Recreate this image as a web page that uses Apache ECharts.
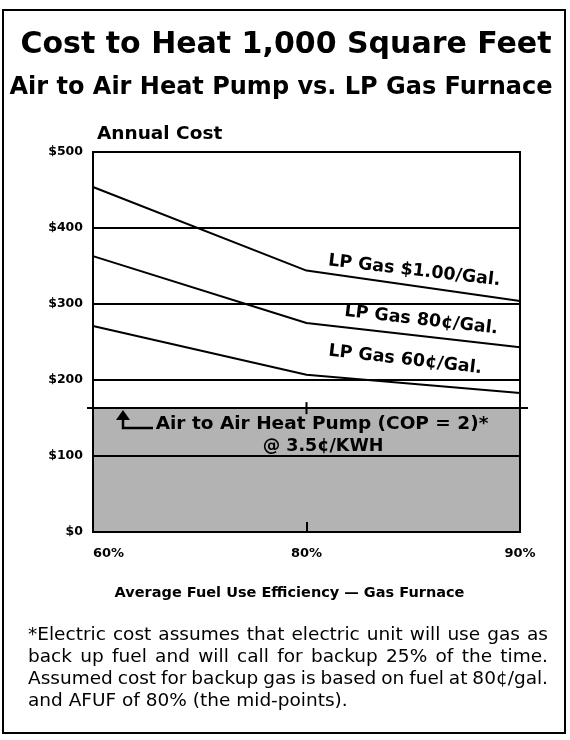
<!DOCTYPE html>
<html>
<head>
<meta charset="utf-8">
<script src="https://cdn.jsdelivr.net/npm/echarts@6/dist/echarts.min.js"></script>
<style>
  html, body { margin: 0; padding: 0; background: #fff; }
  #chart { width: 570px; height: 740px; }
</style>
</head>
<body>
<div id="chart"></div>
<script>
// efficiency categories on the x axis
var efficiency = ['60%', '80%', '90%'];
// annual cost in dollars
var gas100 = [454, 344, 304];
var gas80 = [363, 275, 243];
var gas60 = [271, 207, 183];
var heatPump = [163, 163, 163];
var costTicks = [0, 100, 200, 300, 400, 500];

var FONT = 'DejaVu Sans';

var dom = document.getElementById('chart');
var myChart = echarts.init(dom);

function gasLine(name, data) {
    return {
        name: name,
        type: 'line',
        data: data,
        symbol: 'none',
        silent: true,
        lineStyle: { color: '#000', width: 2 },
        z: 3
    };
}

var option = {
    animation: false,
    backgroundColor: '#fff',
    grid: {
        left: 93, right: 50, top: 152, bottom: 208,
        show: true, borderColor: '#000', borderWidth: 2,
        backgroundColor: 'transparent'
    },
    xAxis: {
        type: 'category',
        boundaryGap: false,
        data: efficiency,
        axisLine: { lineStyle: { color: '#000', width: 2 } },
        axisTick: { inside: true, length: 10, lineStyle: { color: '#000', width: 2 } },
        axisLabel: {
            color: '#000', fontFamily: FONT, fontWeight: 'bold', fontSize: 13,
            margin: 15, alignMinLabel: 'left'
        },
        splitLine: { show: false },
        name: 'Average Fuel Use Efficiency \u2014 Gas Furnace',
        nameLocation: 'middle',
        nameGap: 54,
        nameTextStyle: { color: '#000', fontFamily: FONT, fontWeight: 'bold', fontSize: 14.5,
                         padding: [0, 34, 0, 0] }
    },
    yAxis: {
        type: 'value',
        min: costTicks[0],
        max: costTicks[costTicks.length - 1],
        interval: 100,
        axisLine: { show: true, lineStyle: { color: '#000', width: 2 } },
        axisTick: { show: false },
        axisLabel: {
            color: '#000', fontFamily: FONT, fontWeight: 'bold', fontSize: 12.5, margin: 10,
            formatter: function (v) { return '$' + v; }
        },
        splitLine: { show: true, lineStyle: { color: '#000', width: 2 } }
    },
    series: [
        {
            name: 'Air to Air Heat Pump',
            type: 'line',
            data: heatPump,
            symbol: 'none',
            silent: true,
            lineStyle: { color: '#000', width: 2 },
            areaStyle: { color: '#b3b3b3', opacity: 1 },
            z: -1,
            markPoint: {
                symbol: 'rect',
                symbolSize: [2, 12],
                itemStyle: { color: '#000' },
                label: { show: false },
                data: [{ coord: [efficiency[1], heatPump[1]] }]
            }
        },
        gasLine('LP Gas $1.00/Gal.', gas100),
        gasLine('LP Gas 80\u00a2/Gal.', gas80),
        gasLine('LP Gas 60\u00a2/Gal.', gas60)
    ]
};

myChart.setOption(option);

function px(cat, val) {
    return myChart.convertToPixel({ gridIndex: 0 }, [cat, val]);
}

var hp = px(efficiency[0], heatPump[0]);
var hpRight = px(efficiency[2], heatPump[2]);
var lblStyle = { fill: '#000', fontFamily: FONT, fontWeight: 'bold', fontSize: 16 };

var graphics = [
    { type: 'rect', shape: { x: 3, y: 10, width: 562, height: 723 },
      style: { fill: 'none', stroke: '#000', lineWidth: 2 } },
    { type: 'text', x: 286, y: 45,
      style: { text: 'Cost to Heat 1,000 Square Feet', fill: '#000', fontFamily: FONT,
               fontWeight: 'bold', fontSize: 30, align: 'center', verticalAlign: 'middle' } },
    { type: 'text', x: 281, y: 88,
      style: { text: 'Air to Air Heat Pump vs. LP Gas Furnace', fill: '#000', fontFamily: FONT,
               fontWeight: 'bold', fontSize: 24, align: 'center', verticalAlign: 'middle' } },
    { type: 'text', x: 97, y: 134,
      style: { text: 'Annual Cost', fill: '#000', fontFamily: FONT, fontWeight: 'bold',
               fontSize: 18.5, align: 'left', verticalAlign: 'middle' } },
    // heat pump line runs a little past the frame
    { type: 'line', shape: { x1: hp[0] - 6, y1: hp[1], x2: hpRight[0] + 8, y2: hpRight[1] },
      style: { stroke: '#000', lineWidth: 2 } },
    // arrow to the heat pump line
    { type: 'polyline', shape: { points: [[hp[0] + 60, hp[1] + 20], [hp[0] + 30, hp[1] + 20], [hp[0] + 30, hp[1] + 10]] },
      style: { stroke: '#000', lineWidth: 2.5, fill: 'none' } },
    { type: 'polygon', shape: { points: [[hp[0] + 30, hp[1] + 2], [hp[0] + 23, hp[1] + 12], [hp[0] + 37, hp[1] + 12]] },
      style: { fill: '#000' } },
    { type: 'text', x: 322, y: hp[1] + 16,
      style: Object.assign({}, lblStyle, { text: 'Air to Air Heat Pump (COP = 2)*', fontSize: 18.5,
               align: 'center', verticalAlign: 'middle' }) },
    { type: 'text', x: 323, y: hp[1] + 38,
      style: Object.assign({}, lblStyle, { text: '@ 3.5\u00a2/KWH', fontSize: 17.5,
               align: 'center', verticalAlign: 'middle' }) }
];

// sloped labels for the gas lines, placed between 80% and 90%
var gasLabels = [
    { text: 'LP Gas $1.00/Gal.', series: gas100, dy: -15, dx: 1 },
    { text: 'LP Gas 80\u00a2/Gal.', series: gas80, dy: -15, dx: 8 },
    { text: 'LP Gas 60\u00a2/Gal.', series: gas60, dy: -24, dx: -8 }
];
gasLabels.forEach(function (g) {
    var a = px(efficiency[1], g.series[1]);
    var b = px(efficiency[2], g.series[2]);
    graphics.push({
        type: 'text',
        x: (a[0] + b[0]) / 2 + g.dx,
        y: (a[1] + b[1]) / 2 + g.dy,
        rotation: -0.115,
        style: Object.assign({}, lblStyle, { text: g.text, fontSize: 17.5, align: 'center', verticalAlign: 'middle' })
    });
});

// footnote, justified like the printed original (last line ragged)
var notes = [
    '*Electric cost assumes that electric unit will use gas as',
    'back up fuel and will call for backup 25% of the time.',
    'Assumed cost for backup gas is based on fuel at 80\u00a2/gal.',
    'and AFUF of 80% (the mid-points).'
];
var ctx = document.createElement('canvas').getContext('2d');
ctx.font = '18.5px "DejaVu Sans"';
var noteLeft = 28, noteRight = 548;
notes.forEach(function (line, i) {
    var y = 635 + i * 22;
    var words = line.split(' ');
    var wordsW = words.reduce(function (s, w) { return s + ctx.measureText(w).width; }, 0);
    var gap = ctx.measureText(' ').width;
    if (i < notes.length - 1 && words.length > 1) {
        gap = (noteRight - noteLeft - wordsW) / (words.length - 1);
    }
    var x = noteLeft;
    words.forEach(function (w) {
        graphics.push({
            type: 'text', x: x, y: y,
            style: { text: w, fill: '#000', fontFamily: FONT, fontSize: 18.5,
                     align: 'left', verticalAlign: 'middle' }
        });
        x += ctx.measureText(w).width + gap;
    });
});

myChart.setOption({ graphic: graphics });
</script>
</body>
</html>
